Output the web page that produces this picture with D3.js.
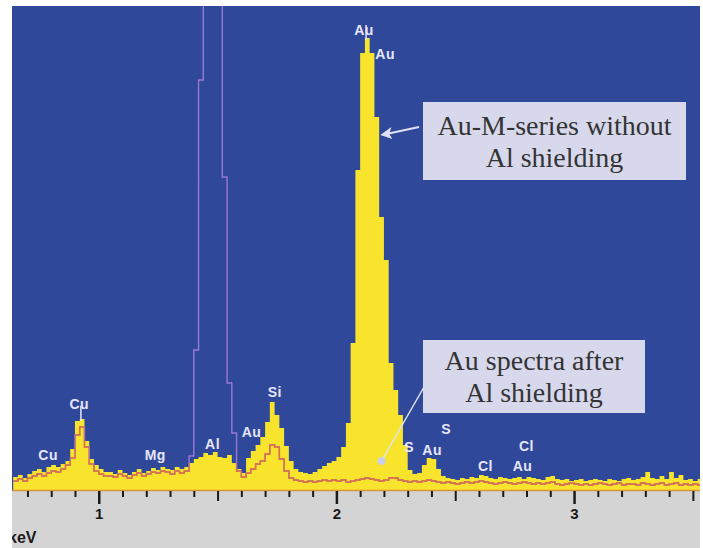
<!DOCTYPE html>
<html>
<head>
<meta charset="utf-8">
<script src="https://cdn.jsdelivr.net/npm/d3@7"></script>
<style>
  body { margin: 0; background: #fff; }
  svg { display: block; }
</style>
</head>
<body>
<svg id="chart" width="703" height="548"></svg>
<script>
// EDS spectrum, counts per 0.02 keV channel
const binStart = 0.64;
const binWidth = 0.02;

// yellow fill : Au-M-series without Al shielding
const countsNoShield = [
  140, 160, 130, 170, 200, 220, 190, 240, 260, 240,
  270, 300, 420, 700, 720, 500, 320, 260, 220, 190,
  190, 170, 210, 180, 160, 190, 220, 180, 200, 230,
  210, 240, 220, 210, 240, 220, 240, 280, 320, 340,
  380, 360, 390, 340, 330, 360, 280, 220, 180, 330,
  400, 460, 540, 690, 890, 760, 630, 450, 300, 220,
  190, 180, 170, 190, 220, 250, 280, 300, 340, 440,
  680, 1480, 3210, 4380, 4530, 4380, 3740, 2740, 2310, 1280,
  1010, 760, 460, 210, 170, 180, 260, 330, 320, 220,
  150, 130, 120, 110, 130, 120, 140, 130, 160, 150,
  130, 120, 140, 130, 120, 130, 140, 120, 140, 130,
  120, 110, 140, 150, 120, 110, 120, 100, 110, 120,
  100, 110, 120, 110, 100, 120, 110, 100, 120, 130,
  110, 120, 140, 190, 130, 120, 150, 120, 190, 130,
  160, 110, 120, 100, 120
];

// pink line : Au spectra after Al shielding (Al K peak runs off the top)
const countsShield = [
  100, 120, 100, 130, 150, 170, 150, 180, 200, 190,
  220, 260, 330, 560, 640, 440, 270, 200, 170, 150,
  150, 140, 170, 150, 130, 160, 180, 150, 170, 190,
  180, 200, 190, 170, 200, 180, 200, 350, 1410, 4110,
  5600, 8000, 8400, 6200, 3140, 1080, 580, 200, 140, 180,
  220, 270, 300, 370, 460, 440, 320, 200, 130, 110,
  100, 90, 100, 90, 100, 110, 100, 110, 100, 110,
  90, 100, 110, 120, 130, 120, 110, 100, 110, 130,
  130, 110, 100, 90, 100, 90, 100, 110, 100, 90,
  80, 90, 80, 70, 80, 90, 80, 90, 100, 90,
  80, 70, 80, 90, 80, 70, 80, 90, 80, 70,
  80, 70, 80, 90, 70, 60, 70, 80, 70, 60,
  70, 60, 70, 80, 70, 60, 70, 80, 60, 70,
  70, 60, 80, 70, 60, 70, 80, 60, 70, 80,
  60, 70, 60, 70, 60
];

const majorTicks = [1, 2, 3];
const axisUnit = "keV";

// element lines marked on the spectrum
const peakNames = ["Cu", "Cu", "Mg", "Al", "Au", "Si", "Au", "Au", "S", "Au", "S", "Cl", "Au", "Cl"];
const peakEnergy = [0.787, 0.918, 1.238, 1.479, 1.643, 1.741, 2.116, 2.205, 2.306, 2.403, 2.462, 2.627, 2.783, 2.80];
const peakLevel = [310, 820, 310, 420, 540, 940, 4560, 4320, 390, 360, 570, 200, 200, 400];

const noteTop = ["Au-M-series without", "Al shielding"];
const noteBottom = ["Au spectra after", "Al shielding"];

// ---- layout
const W = 703, H = 548;
const plotL = 12, plotR = 700, plotT = 6, plotB = 491;

const svg = d3.select("#chart");

const x = d3.scaleLinear().domain([0.635, 3.53]).range([plotL, plotR]);
const y = d3.scaleLinear().domain([0, 4850]).range([plotB, plotT]);

// step data : each channel starts at its energy, one extra point closes the last one
var pts = countsNoShield.map((c, i) => ({ e: binStart + i * binWidth, c: c, s: countsShield[i] }));
pts.push({ e: binStart + pts.length * binWidth, c: pts[pts.length - 1].c, s: pts[pts.length - 1].s });

var defs = svg.append("defs");
defs.append("clipPath").attr("id", "plotclip")
  .append("rect")
  .attr("x", plotL).attr("y", plotT)
  .attr("width", plotR - plotL).attr("height", plotB - plotT);

defs.append("clipPath").attr("id", "greyclip")
  .append("rect")
  .attr("x", plotL).attr("y", plotB)
  .attr("width", plotR - plotL).attr("height", H - plotB);

// backgrounds
svg.append("rect")
  .attr("x", plotL).attr("y", plotT)
  .attr("width", plotR - plotL).attr("height", plotB - plotT)
  .attr("fill", "#30489a");

svg.append("rect")
  .attr("x", plotL).attr("y", plotB)
  .attr("width", plotR - plotL).attr("height", H - plotB)
  .attr("fill", "#d4d4d4");

let plot = svg.append("g").attr("clip-path", "url(#plotclip)");

var area = d3.area()
  .x(d => x(d.e))
  .y0(y(0))
  .y1(d => y(d.c))
  .curve(d3.curveStepAfter);

var line = d3.line()
  .x(d => x(d.e))
  .y(d => y(d.s))
  .curve(d3.curveStepAfter);

plot.append("path")
  .datum(pts)
  .attr("d", area)
  .attr("fill", "#f8e42c");

// shielded spectrum: lavender over the blue ...
plot.append("path")
  .datum(pts)
  .attr("d", line)
  .attr("fill", "none")
  .attr("stroke", "#9b78d2")
  .attr("stroke-width", 1.4);

// ... and orange-red where it lies on the yellow fill
defs.append("clipPath").attr("id", "yellowclip")
  .append("path")
  .datum(pts)
  .attr("d", area);

plot.append("path")
  .datum(pts)
  .attr("d", line)
  .attr("clip-path", "url(#yellowclip)")
  .attr("fill", "none")
  .attr("stroke", "#e0703c")
  .attr("stroke-width", 1.4);

// baseline
svg.append("line")
  .attr("x1", plotL).attr("x2", plotR)
  .attr("y1", plotB - 0.5).attr("y2", plotB - 0.5)
  .attr("stroke", "#d9953a")
  .attr("stroke-width", 1.5);

// small marker strokes above the Cu and Au peaks
[0.925, 2.125].forEach(e => {
  let i = Math.floor((e - binStart) / binWidth);
  plot.append("line")
    .attr("x1", x(e)).attr("x2", x(e))
    .attr("y1", y(countsNoShield[i]) + 2)
    .attr("y2", y(countsNoShield[i]) - 13)
    .attr("stroke", "#e6e6fa")
    .attr("stroke-width", 1.5);
});

// peak labels
plot.selectAll(".peak")
  .data(peakNames)
  .enter()
  .append("text")
  .attr("class", "peak")
  .attr("x", (d, i) => x(peakEnergy[i]))
  .attr("y", (d, i) => y(peakLevel[i]))
  .attr("text-anchor", "middle")
  .attr("font-family", "Liberation Sans")
  .attr("font-weight", "bold")
  .attr("font-size", "14px")
  .attr("letter-spacing", "0.5px")
  .attr("fill", "#e6e6fa")
  .text(d => d);

// ---- axis
let axisG = svg.append("g").attr("transform", "translate(0," + plotB + ")");

var minorTicks = d3.range(7, 36).map(k => k / 10).filter(v => majorTicks.indexOf(v) < 0);

axisG.append("g")
  .call(d3.axisBottom(x).tickValues(minorTicks).tickSize(6).tickFormat(""))
  .call(g => g.select(".domain").remove())
  .call(g => g.selectAll("line")
    .attr("stroke", "#1a1a1a")
    .attr("stroke-width", 2)
    .attr("y2", d => (Math.abs(Math.round(d * 10) % 10 - 5) < 0.01 ? 10 : 6)));

axisG.append("g")
  .call(d3.axisBottom(x).tickValues(majorTicks).tickSize(13).tickPadding(4).tickFormat(d3.format("d")))
  .call(g => g.select(".domain").remove())
  .call(g => g.selectAll("line").attr("stroke", "#1a1a1a").attr("stroke-width", 2.5))
  .call(g => g.selectAll("text")
    .attr("fill", "#1a1a1a")
    .attr("font-family", "Liberation Sans")
    .attr("font-weight", "bold")
    .attr("font-size", "15px"));

svg.append("text")
  .attr("clip-path", "url(#greyclip)")
  .attr("x", 8)
  .attr("y", 543)
  .attr("font-family", "Liberation Sans")
  .attr("font-weight", "bold")
  .attr("font-size", "16px")
  .attr("fill", "#1a1a1a")
  .text(axisUnit);

// ---- annotation boxes
function noteBox(lines, bx, by, bw, bh, firstBase) {
  let g = svg.append("g");
  g.append("rect")
    .attr("x", bx).attr("y", by)
    .attr("width", bw).attr("height", bh)
    .attr("fill", "#d8d8ec");
  g.selectAll("text")
    .data(lines)
    .enter()
    .append("text")
    .attr("x", bx + bw / 2)
    .attr("y", (d, i) => firstBase + i * 32)
    .attr("text-anchor", "middle")
    .attr("font-family", "Liberation Serif")
    .attr("font-size", "28px")
    .attr("fill", "#343434")
    .text(d => d);
  return g;
}

noteBox(noteTop, 423, 102, 263, 78, 135);
noteBox(noteBottom, 423, 340, 222, 73, 370);

// arrow to the Au-M peak
var tip1 = [x(2.185), y(3560)];
svg.append("line")
  .attr("x1", 419).attr("y1", 127)
  .attr("x2", tip1[0] + 6).attr("y2", tip1[1] - 1)
  .attr("stroke", "#dfe2f7")
  .attr("stroke-width", 2);
svg.append("path")
  .attr("d", "M" + tip1[0] + "," + tip1[1] +
    " l11,-8 l-2,7 l3,5 z")
  .attr("fill", "#dfe2f7");

// pointer to the shielded spectrum
var tip2 = [x(2.19), y(300)];
svg.append("line")
  .attr("x1", 424).attr("y1", 387)
  .attr("x2", tip2[0]).attr("y2", tip2[1])
  .attr("stroke", "#dfe2f7")
  .attr("stroke-width", 1.5);
svg.append("circle")
  .attr("cx", tip2[0]).attr("cy", tip2[1])
  .attr("r", 4)
  .attr("fill", "#c9cfee");
</script>
</body>
</html>
